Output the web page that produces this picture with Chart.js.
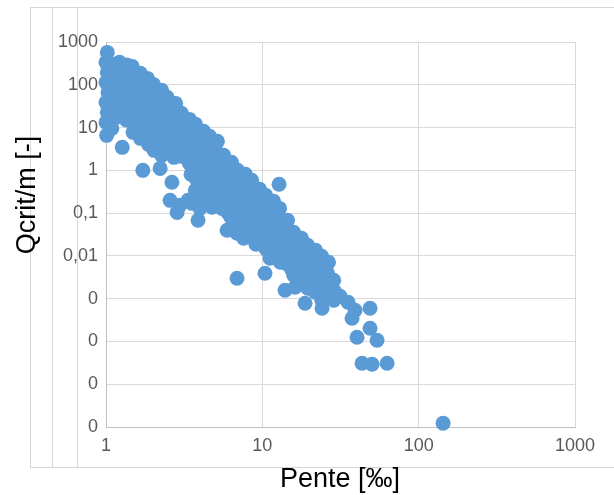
<!DOCTYPE html>
<html lang="fr">
<head>
<meta charset="utf-8">
<script src="https://cdn.jsdelivr.net/npm/chart.js@4"></script>
<style>
  html, body { margin: 0; padding: 0; background: #fff; }
  #wrap { width: 614px; height: 495px; }
</style>
</head>
<body>
<div id="wrap"><canvas id="chart" width="614" height="495"></canvas></div>
<script>
// Pente [‰] (x) and Qcrit/m [-] (y), one pair per point
const pente = [
  1.02, 1.00, 1.02, 1.00, 1.03, 1.00, 1.02, 1.00, 1.01,
  1.11, 1.09, 1.13, 1.10, 1.12, 1.13, 1.09,
  1.22, 1.25, 1.21, 1.24, 1.26, 1.22, 1.27,
  1.36, 1.39, 1.34, 1.37, 1.40, 1.35,
  1.47, 1.51, 1.48, 1.52, 1.46, 1.50, 1.49,
  1.66, 1.62, 1.68, 1.63, 1.67, 1.64, 1.66, 1.72,
  1.84, 1.80, 1.86, 1.81, 1.85, 1.82, 1.87,
  2.01, 2.06, 2.00, 2.05, 2.02, 2.07, 2.03,
  2.27, 2.22, 2.28, 2.23, 2.26, 2.21, 2.27, 2.22,
  2.46, 2.52, 2.47, 2.53, 2.48, 2.51,
  2.79, 2.73, 2.80, 2.74, 2.78, 2.72,
  2.64, 2.57, 2.85, 2.97, 3.35, 3.55, 3.88,
  3.04, 3.09, 3.03, 3.08, 3.05,
  3.42, 3.37, 3.43, 3.38, 3.41, 3.50,
  3.74, 3.80, 3.75, 3.81, 3.76, 3.79, 3.73,
  4.21, 4.15, 4.22, 4.16, 4.20, 4.14, 4.19,
  4.60, 4.67, 4.61, 4.66, 4.59, 4.65, 4.77,
  5.16, 5.10, 5.17, 5.09, 5.15, 5.11, 5.52,
  5.66, 5.73, 5.65, 5.72, 5.67, 5.95,
  6.35, 6.27, 6.36, 6.28, 6.34, 6.29, 6.89,
  6.95, 7.04, 6.94, 7.03, 6.96, 7.02,
  7.80, 7.70, 7.81, 7.69, 7.79, 7.72,
  8.54, 8.65, 8.53, 8.64, 8.56, 8.62,
  9.60, 9.47, 9.61, 9.46, 9.58, 9.49,
  10.5, 10.63, 10.48, 10.65, 10.52, 10.6,
  11.8, 11.63, 11.82, 11.6, 11.78, 11.65,
  12.9, 13.07, 12.88, 13.1, 12.92, 13.05,
  14.5, 14.3, 14.52, 14.28, 14.45,
  12.79, 6.89, 10.4, 13.97, 16.19,
  15.85, 16.07, 15.83, 16.1, 15.9,
  17.8, 17.55, 17.82, 17.52, 17.75,
  19.5, 19.75, 19.45, 19.8, 19.55,
  21.9, 21.6, 21.95, 21.55, 21.85,
  23.95, 24.3, 23.9, 24.25, 24.0,
  26.5, 26.15, 26.55, 26.2,
  28.6, 28.95, 28.65,
  18.76, 24.10, 31.42, 35.35, 39.18, 37.49, 48.88, 40.35, 48.88, 54.18, 43.45, 50.34, 62.81, 143.3,
  3.99, 4.98, 6.0, 6.69, 7.6, 9.1, 11.2, 15.5, 1.3, 1.55, 2.4, 3.2
];
const qcrit = [
  571, 334, 195, 114, 66.4, 38.8, 22.7, 13.2, 6.57,
  300, 166, 91.8, 50.8, 28.1, 16.4, 9.58,
  334, 195, 108, 59.7, 33.0, 18.3, 3.45,
  290, 170, 95, 52, 27, 15,
  269, 149, 82.4, 45.6, 25.2, 13.2, 7.73,
  185, 102, 56.5, 31.3, 17.3, 9.58, 5.59, 1.0,
  141, 78.1, 43.2, 23.9, 13.2, 7.32, 4.05,
  102, 56.5, 31.3, 17.3, 9.58, 5.30, 2.93,
  74, 40.9, 22.7, 12.5, 6.93, 3.84, 2.24, 1.11,
  50.8, 28.1, 15.5, 8.60, 4.76, 2.63,
  36.7, 20.3, 11.3, 6.23, 3.45, 2.01,
  0.525, 0.199, 0.104, 0.152, 0.199, 0.169, 0.0679,
  21.5, 11.9, 6.57, 3.64, 2.12,
  15.5, 8.60, 4.76, 2.63, 1.46, 0.806,
  11.9, 6.57, 3.64, 2.01, 1.11, 0.616, 0.341,
  8.15, 4.51, 2.50, 1.38, 0.764, 0.423, 0.234,
  6.23, 3.45, 1.91, 1.05, 0.584, 0.323, 0.137,
  4.76, 2.63, 1.46, 0.806, 0.446, 0.247, 0.129,
  2.24, 1.24, 0.686, 0.380, 0.210, 0.0397,
  1.54, 0.851, 0.471, 0.260, 0.144, 0.0798, 0.0337,
  1.0, 0.553, 0.306, 0.169, 0.0938, 0.0519,
  0.806, 0.446, 0.247, 0.137, 0.0756, 0.0418,
  0.584, 0.323, 0.179, 0.0989, 0.0547, 0.0303,
  0.360, 0.199, 0.110, 0.0610, 0.0337, 0.0197,
  0.260, 0.144, 0.0798, 0.0441, 0.0244, 0.0143,
  0.189, 0.104, 0.0578, 0.0320, 0.0177, 0.0103,
  0.129, 0.0716, 0.0397, 0.0219, 0.0121, 0.00708,
  0.0679, 0.0376, 0.0208, 0.0115, 0.00637,
  0.471, 0.00300, 0.00392, 0.00157, 0.00185,
  0.0356, 0.0197, 0.0109, 0.00603, 0.00352,
  0.0258, 0.0143, 0.00789, 0.00437, 0.00269,
  0.0177, 0.00979, 0.00542, 0.00300, 0.00175,
  0.0135, 0.00748, 0.00414, 0.00229, 0.00141,
  0.00979, 0.00542, 0.00300, 0.00166, 0.000918,
  0.00708, 0.00392, 0.00206, 0.00114,
  0.00269, 0.00149, 0.000918,
  0.000781, 0.000597, 0.00114, 0.000824, 0.000536, 0.000348, 0.000597, 0.000125, 0.000203, 0.000107, 0.0000310, 0.0000293, 0.0000310, 0.00000123,
  0.129, 0.199, 0.104, 0.0679, 0.0258, 0.0187, 0.00879, 0.00461, 120, 60, 20, 4.5
];

// axis ticks and their labels (as printed on the original, french decimals)
const xTicks = [1, 10, 100, 1000];
const xTickLabels = ['1', '10', '100', '1000'];
const yTicks = [1e-6, 1e-5, 1e-4, 1e-3, 0.01, 0.1, 1, 10, 100, 1000];
const yTickLabels = ['0', '0', '0', '0', '0,01', '0,1', '1', '10', '100', '1000'];

const xTitle = 'Pente [‰]';
const yTitle = 'Qcrit/m [-]';

const GRID = '#d9d9d9';
const TICK_FONT = { family: '"Liberation Sans", Arial, sans-serif', size: 18 };

// sheet frame lines + axis titles
const framePlugin = {
  id: 'frame',
  beforeDraw(chart) {
    const ctx = chart.ctx;
    ctx.save();
    ctx.fillStyle = '#fff';
    ctx.fillRect(0, 0, chart.width, chart.height);
    ctx.strokeStyle = '#d6d6d6';
    ctx.lineWidth = 1;
    ctx.beginPath();
    [30.5, 52.5, 77.5].forEach(x => { ctx.moveTo(x, 7); ctx.lineTo(x, 468); });
    ctx.moveTo(30, 7.5); ctx.lineTo(614, 7.5);
    ctx.moveTo(30, 467.5); ctx.lineTo(614, 467.5);
    ctx.stroke();
    ctx.restore();
  },
  afterDraw(chart) {
    const ctx = chart.ctx;
    ctx.save();
    ctx.fillStyle = '#000';
    ctx.font = '27px "Liberation Sans", Arial, sans-serif';
    ctx.textAlign = 'center';
    ctx.textBaseline = 'middle';
    ctx.fillText(xTitle, 340, 480);
    ctx.translate(28, 195);
    ctx.rotate(-Math.PI / 2);
    ctx.fillText(yTitle, 0, 0);
    ctx.restore();
  }
};

const points = pente.map((x, i) => ({ x: x, y: qcrit[i] }));

new Chart(document.getElementById('chart'), {
  type: 'scatter',
  data: {
    datasets: [{
      data: points,
      pointRadius: 7.5,
      pointHoverRadius: 7.5,
      pointBorderWidth: 0,
      pointBackgroundColor: '#5b9bd5',
      pointBorderColor: '#5b9bd5',
      clip: false
    }]
  },
  options: {
    responsive: false,
    animation: false,
    layout: { padding: { left: 0, top: 42, right: 39, bottom: 0 } },
    plugins: {
      legend: { display: false },
      tooltip: { enabled: false }
    },
    scales: {
      x: {
        type: 'logarithmic',
        position: 'bottom',
        min: 1,
        max: 1000,
        afterBuildTicks: s => { s.ticks = xTicks.map(v => ({ value: v })); },
        afterFit: s => { s.height = 68; },
        grid: { color: GRID, drawTicks: false },
        border: { color: '#bfbfbf' },
        ticks: {
          font: TICK_FONT,
          color: '#595959',
          padding: 8,
          autoSkip: false,
          maxRotation: 0,
          callback: (v, i) => xTickLabels[i]
        }
      },
      y: {
        type: 'logarithmic',
        position: 'left',
        min: 1e-6,
        max: 1000,
        afterBuildTicks: s => { s.ticks = yTicks.map(v => ({ value: v })); },
        afterFit: s => { s.width = 106; },
        grid: { color: GRID, drawTicks: false },
        border: { color: '#bfbfbf' },
        ticks: {
          font: TICK_FONT,
          color: '#595959',
          padding: 8,
          autoSkip: false,
          callback: (v, i) => yTickLabels[i]
        }
      }
    }
  },
  plugins: [framePlugin]
});
</script>
</body>
</html>
